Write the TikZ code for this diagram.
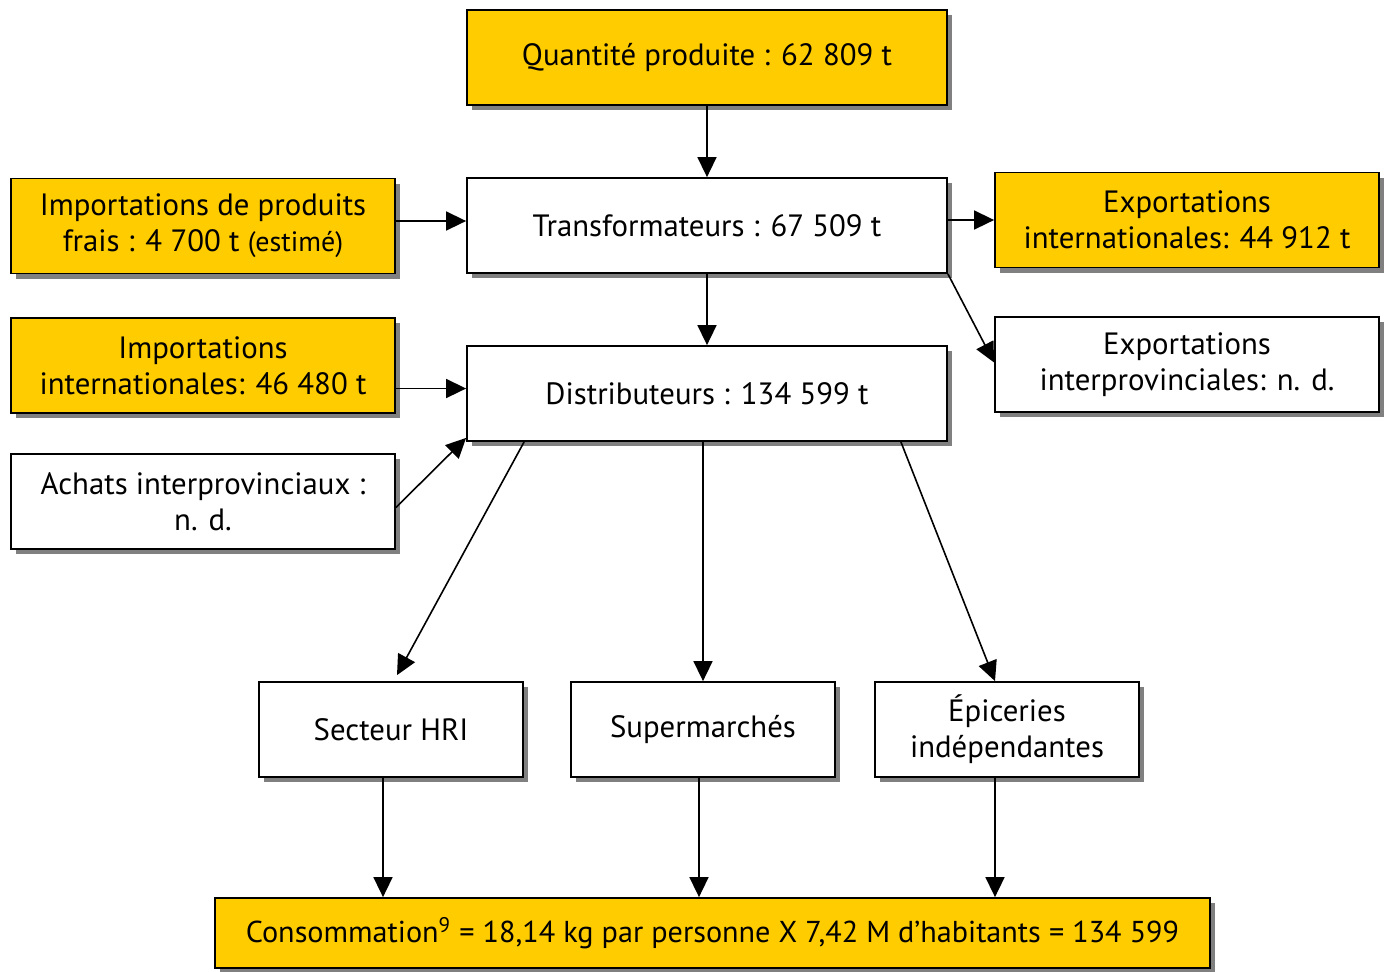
\documentclass[tikz,border=0pt]{standalone}
\usepackage{fontspec}
\setmainfont{PT Sans}
\usetikzlibrary{arrows.meta, shadows, positioning}
\definecolor{stockyellow}{HTML}{FFCC00}
\definecolor{shadowgray}{HTML}{808080}
\tikzset{%
>={Triangle[width=9.5pt,length=10pt]},
  % Specifications for style of nodes:
            flowbox/.style = {rectangle, draw=black, line width=0.9pt,
                            fill=white, minimum width=240pt, minimum
                            height=47.5pt, inner sep=2pt, align=center,
                            font=\fontsize{15.4}{18}\selectfont,
                            drop shadow={shadow xshift=2.5pt, shadow yshift=-2.5pt,
                            fill=shadowgray, opacity=1}},
            stock/.style = {flowbox, fill=stockyellow},
            sidebox/.style = {minimum width=192pt},
            outlet/.style = {minimum width=132pt},
            flow/.style = {->, line width=0.8pt}
}

\begin{document}
\begin{tikzpicture}[x=0.5pt, y=-0.5pt]
                \useasboundingbox (0,0) rectangle (1390,971);

                \node[stock] (qte) at (707,57.5) {Quantité produite : 62 809 t};
                \node[flowbox] (transf) at (707,225.5) {Transformateurs : 67 509 t};
                \node[flowbox] (distr) at (707,393.5) {Distributeurs : 134 599 t};

                \node[stock, sidebox] (impfrais) at (203,226) {Importations de produits\\frais : 4 700 t {\fontsize{14}{18}\selectfont(estimé)}};
                \node[stock, sidebox] (impint) at (203,365.5) {Importations\\internationales: 46 480 t};
                \node[flowbox, sidebox] (achats) at (203,501.5) {Achats interprovinciaux :\\n. d.};

                \node[stock, sidebox] (expint) at (1187,220) {Exportations\\internationales: 44 912 t};
                \node[flowbox, sidebox] (expprov) at (1187,364.5) {Exportations\\interprovinciales: n. d.};

                \node[flowbox, outlet] (hri) at (391,729.5) {Secteur HRI};
                \node[flowbox, outlet] (super) at (703,729.5) {Supermarchés};
                \node[flowbox, outlet] (epic) at (1007,729.5) {Épiceries\\indépendantes};

                \node[stock, minimum width=497.5pt, minimum height=35pt, font=\fontsize{15.1}{18}\selectfont] (conso) at (712.5,933)
                {Consommation\textsuperscript{9} = 18,14 kg par personne X 7,42 M d’habitants = 134 599};

                \draw[flow] (qte) -- (transf);
                \draw[flow] (transf) -- (distr);
                \draw[flow] ([yshift=2.5pt]impfrais.east) -- ([yshift=2.5pt]impfrais.east -| transf.west);
                \draw[flow] (transf.east |- expint.west) -- (expint.west);
                \draw[flow] (transf.south east) -- ([yshift=1pt]expprov.west);
                \draw[flow] ([yshift=2.5pt]distr.west -| impint.east) -- ([yshift=2.5pt]distr.west);
                \draw[flow] ([yshift=-3pt]achats.east) -- ([yshift=2pt]distr.south west);

                \draw[flow] ([xshift=29pt]distr.south west) -- ([xshift=3pt,yshift=3pt]hri.north);
                \draw[flow] (distr.south -| super.north) -- (super.north);
                \draw[flow] ([xshift=-23.5pt]distr.south east) -- ([xshift=-6pt]epic.north);

                \draw[flow] ([xshift=-4pt]hri.south) -- ([xshift=-4pt]hri.south |- conso.north);
                \draw[flow] ([xshift=-2pt]super.south) -- ([xshift=-2pt]super.south |- conso.north);
                \draw[flow] ([xshift=-6pt]epic.south) -- ([xshift=-6pt]epic.south |- conso.north);

            \end{tikzpicture}
\end{document}
